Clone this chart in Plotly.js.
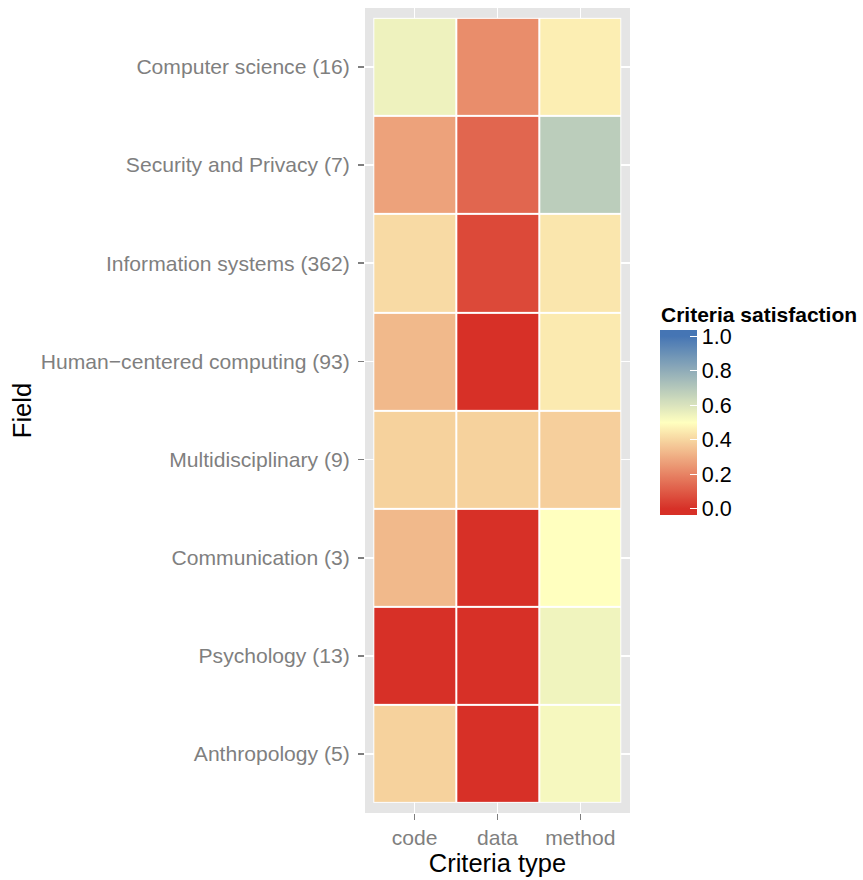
<!DOCTYPE html>
<html>
<head>
<meta charset="utf-8">
<script src="https://cdn.plot.ly/plotly-3.0.1.min.js"></script>
<style>html,body{margin:0;padding:0;background:#fff;}#chart{width:863px;height:880px;}</style>
</head>
<body>
<div id="chart"></div>
<script>
// ---- data ----
const fields = [
  "Computer science (16)",
  "Security and Privacy (7)",
  "Information systems (362)",
  "Human\u2212centered computing (93)",
  "Multidisciplinary (9)",
  "Communication (3)",
  "Psychology (13)",
  "Anthropology (5)"
];
const criteria = ["code", "data", "method"];
const codeVals   = [0.545, 0.275, 0.41, 0.33, 0.39, 0.33, 0.00, 0.39];
const dataVals   = [0.225, 0.13, 0.06, 0.00, 0.39, 0.00, 0.00, 0.00];
const methodVals = [0.46, 0.683, 0.44, 0.45, 0.385, 0.50, 0.54, 0.525];
const colorbarTicks = [0, 0.2, 0.4, 0.6, 0.8, 1.0];
const legendTitle = "Criteria satisfaction";

// ---- colour: diverging gradient red - pale yellow - blue ----
function hex2rgb(h){h=h.replace('#','');return [0,2,4].map(i=>parseInt(h.substr(i,2),16));}
function rgb2hex(c){return '#'+c.map(v=>Math.round(Math.max(0,Math.min(255,v))).toString(16).padStart(2,'0')).join('');}
const lowC=hex2rgb('#D73027'), midC=hex2rgb('#FFFFBF'), highC=hex2rgb('#4575B4');
function colorAt(v){
  v=Math.max(0,Math.min(1,v));
  let a,b,t;
  if(v<=0.5){a=lowC;b=midC;t=v/0.5;}else{a=midC;b=highC;t=(v-0.5)/0.5;}
  return rgb2hex([0,1,2].map(i=>a[i]+(b[i]-a[i])*t));
}
const cmin=-0.035, cmax=1.035;
const colorscale=[];
for(let k=0;k<=60;k++){const p=k/60;colorscale.push([p,colorAt(cmin+p*(cmax-cmin))]);}

const z = fields.map((_,i)=>[codeVals[i], dataVals[i], methodVals[i]]);
const zWhite = z.map(r=>r.map(()=>1));

const FONT="Liberation Sans, Arial, Helvetica, sans-serif";

const traces=[
  {type:'heatmap', x:criteria, y:fields, z:zWhite, colorscale:[[0,'#ffffff'],[1,'#ffffff']],
   showscale:false, hoverinfo:'skip'},
  {type:'heatmap', x:criteria, y:fields, z:z, colorscale:colorscale, zmin:cmin, zmax:cmax,
   xgap:2, ygap:2,
   colorbar:{
     xref:'container', yref:'paper',
     x:660/863, xanchor:'left', y:(813-330)/805, yanchor:'top',
     lenmode:'pixels', len:185, thickness:37, thicknessmode:'pixels',
     outlinewidth:0, xpad:0, ypad:0,
     tickvals:colorbarTicks, tickformat:'.1f',
     ticks:'inside', ticklen:7, tickcolor:'#ffffff', tickwidth:1,
     tickfont:{family:FONT,size:21.5,color:'#000000'}
   }}
];

const layout={
  width:863, height:880,
  margin:{l:365, r:233, t:8, b:67, pad:0},
  paper_bgcolor:'#ffffff', plot_bgcolor:'#E5E5E5',
  font:{family:FONT},
  showlegend:false,
  xaxis:{type:'category', categoryorder:'array', categoryarray:criteria,
    range:[-0.6,2.6], showgrid:true, gridcolor:'#ffffff', gridwidth:1.6, zeroline:false,
    ticks:'outside', ticklen:6, tickwidth:1.5, tickcolor:'#7F7F7F',
    tickfont:{family:FONT,size:21.1,color:'#7F7F7F'},
    title:{text:'Criteria type', font:{family:FONT,size:25.5,color:'#000000'}, standoff:0},
    fixedrange:true},
  yaxis:{type:'category', categoryorder:'array', categoryarray:fields,
    range:[7.6,-0.6], showgrid:true, gridcolor:'#ffffff', gridwidth:1.6, zeroline:false,
    ticks:'outside', ticklen:6, tickwidth:1.5, tickcolor:'#7F7F7F',
    ticklabelstandoff:4,
    tickfont:{family:FONT,size:21.1,color:'#7F7F7F'},
    title:{text:'Field', font:{family:FONT,size:25.5,color:'#000000'}, standoff:1},
    fixedrange:true},
  annotations:[{
    text:'<b>'+legendTitle+'</b>', xref:'paper', yref:'paper',
    x:(660-365)/265, xanchor:'left', y:(813-327)/805, yanchor:'bottom',
    showarrow:false, borderpad:0, font:{family:FONT,size:21,color:'#000000'}
  }]
};
Plotly.newPlot('chart', traces, layout, {displayModeBar:false, staticPlot:true});
</script>
</body>
</html>
